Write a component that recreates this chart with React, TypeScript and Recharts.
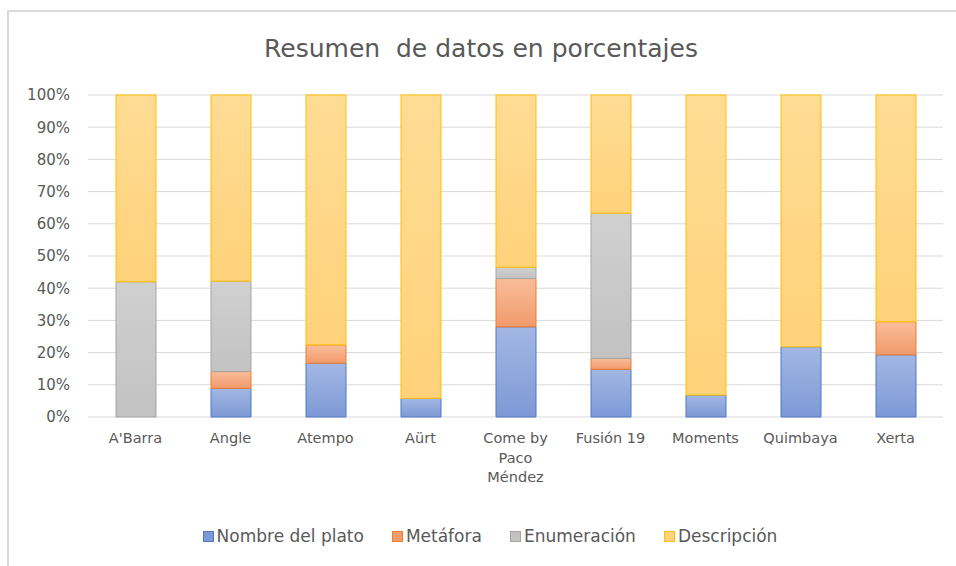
import { BarChart, Bar, XAxis, YAxis, CartesianGrid } from "recharts";

const restaurants = ["A'Barra", "Angle", "Atempo", "Aürt", "Come by Paco Méndez", "Fusión 19", "Moments", "Quimbaya", "Xerta"];
const nombre = [0, 8.9, 16.7, 5.8, 28, 14.8, 6.8, 21.8, 19.3];
const metafora = [0, 5.2, 5.7, 0, 15, 3.4, 0, 0, 10.3];
const enumeracion = [42, 28.1, 0, 0, 3.5, 45.1, 0, 0, 0];
const descripcion = [58, 57.8, 77.6, 94.2, 53.5, 36.7, 93.2, 78.2, 70.4];
const yTicks = [0, 0.1, 0.2, 0.3, 0.4, 0.5, 0.6, 0.7, 0.8, 0.9, 1];

const data = restaurants.map((name, i) => ({
  name,
  nombre: nombre[i],
  metafora: metafora[i],
  enumeracion: enumeracion[i],
  descripcion: descripcion[i],
}));

const series = [
  { key: "nombre", label: "Nombre del plato", top: "#a3b7e3", bottom: "#7d99d6", stroke: "#4f78c4" },
  { key: "metafora", label: "Metáfora", top: "#f9bd9a", bottom: "#f19a6a", stroke: "#ed7d31" },
  { key: "enumeracion", label: "Enumeración", top: "#d0d0d0", bottom: "#c2c2c2", stroke: "#a5a5a5" },
  { key: "descripcion", label: "Descripción", top: "#ffdc94", bottom: "#ffd27a", stroke: "#ffc000" },
];

const font = "'DejaVu Sans', 'Open Sans', sans-serif";

// wraps long category names the way Excel does
function CategoryTick(props: any) {
  const { x, y, payload } = props;
  const words = String(payload.value).split(" ");
  const lines: string[] = [];
  let cur = "";
  words.forEach((w) => {
    const next = cur ? cur + " " + w : w;
    if (next.length > 9 && cur) {
      lines.push(cur);
      cur = w;
    } else cur = next;
  });
  if (cur) lines.push(cur);
  return (
    <text x={x} y={y} textAnchor="middle" fill="#595959" fontSize={14.5} fontFamily={font}>
      {lines.map((l, i) => (
        <tspan key={i} x={x} dy={i === 0 ? 18 : 19.5}>
          {l}
        </tspan>
      ))}
    </text>
  );
}

export default function App() {
  return (
    <div style={{ position: "absolute", left: 0, top: 0, width: 956, height: 566, background: "#fff", overflow: "hidden", fontFamily: font }}>
      <div style={{ position: "absolute", left: 7, top: 10, width: 970, height: 580, border: "2px solid #dadada", boxSizing: "border-box" }} />
      <div style={{ position: "absolute", top: 34, width: 962, textAlign: "center", fontSize: 25, color: "#595959", whiteSpace: "pre" }}>
        Resumen  de datos en porcentajes
      </div>
      <div style={{ position: "absolute" }}>
        <BarChart width={956} height={566} data={data} stackOffset="expand" margin={{ top: 95, right: 13, bottom: 0, left: 0 }}>
          <defs>
            {series.map((s) => (
              <linearGradient key={s.key} id={"g-" + s.key} x1="0" y1="0" x2="0" y2="1">
                <stop offset="0%" stopColor={s.top} />
                <stop offset="100%" stopColor={s.bottom} />
              </linearGradient>
            ))}
          </defs>
          <CartesianGrid vertical={false} stroke="#d9d9d9" />
          <XAxis dataKey="name" interval={0} height={149} axisLine={false} tickLine={false} tick={<CategoryTick />} />
          <YAxis
            width={88}
            domain={[0, 1]}
            ticks={yTicks}
            axisLine={false}
            tickLine={false}
            tickSize={0}
            tickMargin={18}
            tickFormatter={(v: number) => Math.round(v * 100) + "%"}
            tick={{ fill: "#595959", fontSize: 15, fontFamily: font }}
          />
          {series.map((s) => (
            <Bar key={s.key} dataKey={s.key} name={s.label} stackId="a" barSize={40} fill={`url(#g-${s.key})`} stroke={s.stroke} strokeWidth={1} isAnimationActive={false} />
          ))}
        </BarChart>
      </div>
      <div style={{ position: "absolute", top: 526, left: 12, width: 956, display: "flex", justifyContent: "center", gap: 28, fontSize: 17, color: "#595959" }}>
        {series.map((s) => (
          <div key={s.key} style={{ display: "flex", alignItems: "center" }}>
            <span style={{ display: "inline-block", width: 9, height: 9, background: s.bottom, border: `1px solid ${s.stroke}`, marginRight: 3 }} />
            {s.label}
          </div>
        ))}
      </div>
    </div>
  );
}
